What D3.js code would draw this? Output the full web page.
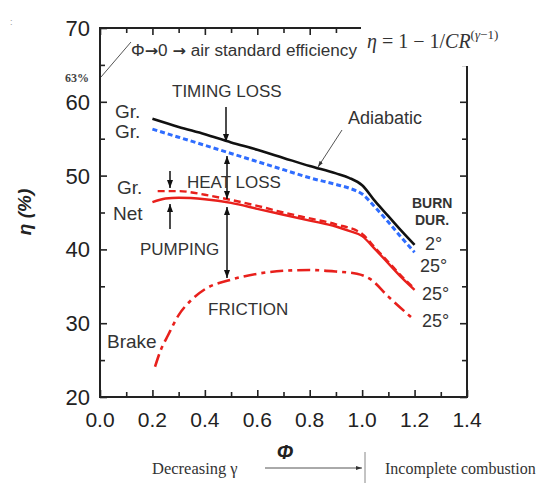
<!doctype html>
<html>
<head>
  <meta charset="UTF-8">
  <title>d3</title>
  <script src="https://cdn.jsdelivr.net/npm/d3@7/dist/d3.min.js"></script>
  <style type="text/css">
    body { margin: 0; background: #fff; }
    text { font-family: "Liberation Sans", Arial, sans-serif; }
    .serif { font-family: "Liberation Serif", "Times New Roman", serif; }
    .arr { font-family: "DejaVu Sans", sans-serif; font-weight: bold; }
  </style>
</head>
<body>
  <div id="chart"></div>
  <script>
    // values (phi, efficiency %)
    var adiabaticPhi = [0.2, 0.3, 0.4, 0.5, 0.6, 0.7, 0.8, 0.9, 0.95, 1.0, 1.05, 1.1, 1.15, 1.2];
    var adiabaticEta = [57.7, 56.6, 55.6, 54.5, 53.5, 52.4, 51.3, 50.3, 49.7, 48.7, 46.5, 44.5, 42.5, 40.6];

    var grossPhi = [0.2, 0.3, 0.4, 0.5, 0.6, 0.7, 0.8, 0.9, 0.95, 1.0, 1.05, 1.1, 1.15, 1.2];
    var grossEta = [56.3, 55.2, 54.1, 53.0, 51.9, 50.8, 49.7, 48.8, 48.3, 47.5, 45.7, 43.7, 41.6, 39.6];

    var indGrossPhi = [0.22, 0.3, 0.4, 0.5, 0.6, 0.7, 0.8, 0.9, 1.0, 1.05, 1.1, 1.15, 1.2];
    var indGrossEta = [47.9, 47.9, 47.4, 46.7, 45.9, 45.0, 44.2, 43.4, 42.1, 40.2, 38.3, 36.4, 34.7];

    var netPhi = [0.2, 0.25, 0.3, 0.4, 0.5, 0.6, 0.7, 0.8, 0.9, 0.95, 1.0, 1.05, 1.1, 1.15, 1.2];
    var netEta = [46.4, 46.9, 47.0, 46.8, 46.3, 45.5, 44.7, 43.9, 43.1, 42.5, 41.8, 40.0, 38.1, 36.2, 34.5];

    var brakePhi = [0.21, 0.23, 0.26, 0.3, 0.35, 0.4, 0.5, 0.6, 0.7, 0.8, 0.9, 0.98, 1.03, 1.1, 1.2];
    var brakeEta = [24.1, 26.2, 28.4, 31.1, 33.2, 34.6, 35.9, 36.7, 37.1, 37.2, 37.0, 36.7, 36.0, 33.6, 30.4];

    var xTicks = [0, 0.2, 0.4, 0.6, 0.8, 1.0, 1.2, 1.4];
    var xMinorTicks = [0.1, 0.3, 0.5, 0.7, 0.9, 1.1, 1.3];
    var yTicks = [20, 30, 40, 50, 60, 70];
    var yMinorTicks = [25, 35, 45, 55, 65];
    var burnLabels = ["2°", "25°", "25°", "25°"];

    var w = 543,
      h = 483,
      red = "#e8201c",
      blue = "#2f6dff",
      ink = "#222";

    var x = d3.scaleLinear().domain([0, 1.4]).range([100, 467]),
      y = d3.scaleLinear().domain([20, 70]).range([397, 28]);

    var svg = d3.select("#chart").append("svg")
      .attr("width", w)
      .attr("height", h);

    svg.append("rect").attr("width", w).attr("height", h).attr("fill", "#fff");

    var defs = svg.append("defs");
    defs.append("marker")
      .attr("id", "head")
      .attr("viewBox", "0 0 8 6")
      .attr("refX", 8).attr("refY", 3)
      .attr("markerWidth", 8).attr("markerHeight", 6)
      .attr("markerUnits", "userSpaceOnUse")
      .attr("orient", "auto-start-reverse")
      .append("path").attr("d", "M0,0L8,3L0,6z").attr("fill", "#111");
    defs.append("marker")
      .attr("id", "small")
      .attr("viewBox", "0 0 6 4")
      .attr("refX", 6).attr("refY", 2)
      .attr("markerWidth", 6).attr("markerHeight", 4)
      .attr("markerUnits", "userSpaceOnUse")
      .attr("orient", "auto")
      .append("path").attr("d", "M0,0L6,2L0,4z").attr("fill", "#333");

    // axes, ticks pointing inward
    function tickAxis(axis, vals, size, tr) {
      var g = svg.append("g").attr("transform", tr)
        .call(axis.tickValues(vals).tickSize(size).tickFormat(""));
      g.select(".domain").remove();
      g.selectAll("line").attr("stroke", ink).attr("stroke-width", 1.6);
      return g;
    }
    tickAxis(d3.axisBottom(x), xTicks, -7, "translate(0,397)");
    tickAxis(d3.axisBottom(x), xMinorTicks, -5, "translate(0,397)");
    tickAxis(d3.axisTop(x), xTicks, -7, "translate(0,28)");
    tickAxis(d3.axisTop(x), xMinorTicks, -5, "translate(0,28)");
    tickAxis(d3.axisLeft(y), yTicks, -7, "translate(100,0)");
    tickAxis(d3.axisLeft(y), yMinorTicks, -5, "translate(100,0)");
    tickAxis(d3.axisRight(y), yTicks, -7, "translate(467,0)");
    tickAxis(d3.axisRight(y), yMinorTicks, -5, "translate(467,0)");

    svg.append("rect")
      .attr("x", x(0)).attr("y", y(70))
      .attr("width", x(1.4) - x(0)).attr("height", y(20) - y(70))
      .attr("fill", "none").attr("stroke", ink).attr("stroke-width", 2);

    // the formula box hides the top right corner of the frame
    svg.append("rect").attr("x", 361).attr("y", 0).attr("width", 182).attr("height", 66).attr("fill", "#fff");

    svg.selectAll(".xLabel")
      .data(xTicks)
      .enter().append("text")
      .attr("class", "xLabel")
      .attr("x", function(d) { return x(d); })
      .attr("y", 427)
      .attr("text-anchor", "middle")
      .attr("font-size", 21)
      .attr("fill", ink)
      .text(function(d) { return d.toFixed(1); });

    svg.selectAll(".yLabel")
      .data(yTicks)
      .enter().append("text")
      .attr("class", "yLabel")
      .attr("x", 90)
      .attr("y", function(d) { return y(d); })
      .attr("dy", "0.36em")
      .attr("text-anchor", "end")
      .attr("font-size", 22)
      .attr("fill", ink)
      .text(String);

    svg.append("text")
      .attr("x", 285).attr("y", 459)
      .attr("text-anchor", "middle")
      .attr("font-size", 20).attr("font-weight", "bold").attr("font-style", "italic")
      .attr("fill", ink)
      .text("Φ");

    svg.append("text")
      .attr("transform", "translate(31,212) rotate(-90)")
      .attr("text-anchor", "middle")
      .attr("font-size", 19).attr("font-weight", "bold").attr("font-style", "italic")
      .attr("fill", ink)
      .text("η (%)");

    // curves
    function series(px, py) {
      return px.map(function(d, i) { return [d, py[i]]; });
    }
    var line = d3.line()
      .x(function(d) { return x(d[0]); })
      .y(function(d) { return y(d[1]); })
      .curve(d3.curveMonotoneX);

    svg.append("path").attr("d", line(series(brakePhi, brakeEta)))
      .attr("fill", "none").attr("stroke", red).attr("stroke-width", 2.6)
      .attr("stroke-dasharray", "13,5,4,5");
    svg.append("path").attr("d", line(series(netPhi, netEta)))
      .attr("fill", "none").attr("stroke", red).attr("stroke-width", 2.4);
    svg.append("path").attr("d", line(series(indGrossPhi, indGrossEta)))
      .attr("fill", "none").attr("stroke", red).attr("stroke-width", 2.4)
      .attr("stroke-dasharray", "7,4");
    svg.append("path").attr("d", line(series(grossPhi, grossEta)))
      .attr("fill", "none").attr("stroke", blue).attr("stroke-width", 3)
      .attr("stroke-dasharray", "5,3");
    svg.append("path").attr("d", line(series(adiabaticPhi, adiabaticEta)))
      .attr("fill", "none").attr("stroke", "#111").attr("stroke-width", 2.6);

    // arrows
    function arrow(x1, y1, x2, y2, both) {
      var a = svg.append("line")
        .attr("x1", x1).attr("y1", y1).attr("x2", x2).attr("y2", y2)
        .attr("stroke", "#111").attr("stroke-width", 1.5)
        .attr("marker-end", "url(#head)");
      if (both) a.attr("marker-start", "url(#head)");
    }
    arrow(226, 107, 226, 142);
    arrow(227, 156, 227, 199, true);
    arrow(227, 207, 227, 278, true);
    arrow(170, 171, 170, 188);
    arrow(170, 229, 170, 204);

    svg.append("line")
      .attr("x1", 342).attr("y1", 130).attr("x2", 318).attr("y2", 167)
      .attr("stroke", "#555").attr("stroke-width", 1)
      .attr("marker-end", "url(#small)");

    svg.append("line")
      .attr("x1", 101).attr("y1", 77).attr("x2", 131).attr("y2", 42)
      .attr("stroke", "#555").attr("stroke-width", 1);

    // labels
    var labels = [
      ["Gr.", 115, 118, 19], ["Gr.", 115, 138, 19], ["Gr.", 117, 194, 19], ["Net", 113, 220, 19],
      ["Brake", 107, 348, 19],
      ["TIMING LOSS", 172, 97, 17], ["HEAT LOSS", 187, 188, 17], ["PUMPING", 140, 255, 17],
      ["FRICTION", 208, 315, 17], ["Adiabatic", 348, 124, 18]
    ];
    svg.selectAll(".lab")
      .data(labels)
      .enter().append("text")
      .attr("class", "lab")
      .attr("x", function(d) { return d[1]; })
      .attr("y", function(d) { return d[2]; })
      .attr("font-size", function(d) { return d[3]; })
      .attr("fill", "#333")
      .text(function(d) { return d[0]; });

    svg.append("text").attr("x", 412).attr("y", 208)
      .attr("font-size", 14).attr("font-weight", "bold").attr("fill", "#333").text("BURN");
    svg.append("text").attr("x", 415).attr("y", 225)
      .attr("font-size", 14).attr("font-weight", "bold").attr("fill", "#333").text("DUR.");

    var burnPos = [[425, 250], [420, 272], [422, 300], [422, 327]];
    svg.selectAll(".burn")
      .data(burnLabels)
      .enter().append("text")
      .attr("class", "burn")
      .attr("x", function(d, i) { return burnPos[i][0]; })
      .attr("y", function(d, i) { return burnPos[i][1]; })
      .attr("font-size", 18)
      .attr("fill", "#333")
      .text(String);

    var phiNote = svg.append("text")
      .attr("x", 131).attr("y", 56)
      .attr("font-size", 16).attr("fill", "#333")
      .attr("textLength", 226).attr("lengthAdjust", "spacingAndGlyphs");
    phiNote.append("tspan").text("Φ");
    phiNote.append("tspan").attr("class", "arr").attr("font-size", 15).text("→");
    phiNote.append("tspan").text("0 ");
    phiNote.append("tspan").attr("class", "arr").attr("font-size", 15).text("→");
    phiNote.append("tspan").text(" air standard efficiency");

    svg.append("text").attr("class", "serif")
      .attr("x", 89).attr("y", 82).attr("text-anchor", "end")
      .attr("font-size", 12).attr("font-weight", "bold").attr("fill", "#444")
      .text("63%");

    svg.append("text").attr("x", 10).attr("y", 25)
      .attr("font-size", 9).attr("fill", "#999").text(":");

    var f = svg.append("text").attr("class", "serif")
      .attr("x", 367).attr("y", 48)
      .attr("font-size", 20).attr("fill", "#333");
    f.append("tspan").attr("font-style", "italic").text("η");
    f.append("tspan").text(" = 1 − 1/");
    f.append("tspan").attr("font-style", "italic").text("CR");
    f.append("tspan").attr("font-size", 13).attr("dy", -9).text("(")
      .append("tspan").attr("font-style", "italic").text("γ");
    f.append("tspan").attr("font-size", 13).text("−1)");

    // bottom note
    svg.append("text").attr("class", "serif")
      .attr("x", 152).attr("y", 474)
      .attr("font-size", 16.5).attr("fill", "#333")
      .text("Decreasing γ");
    svg.append("line")
      .attr("x1", 265).attr("y1", 468).attr("x2", 362).attr("y2", 468)
      .attr("stroke", "#555").attr("stroke-width", 1)
      .attr("marker-end", "url(#small)");
    svg.append("line")
      .attr("x1", 365).attr("y1", 452).attr("x2", 365).attr("y2", 483)
      .attr("stroke", "#888").attr("stroke-width", 1);
    svg.append("text").attr("class", "serif")
      .attr("x", 385).attr("y", 474)
      .attr("font-size", 16).attr("fill", "#333")
      .text("Incomplete combustion");
  </script>
</body>
</html>
